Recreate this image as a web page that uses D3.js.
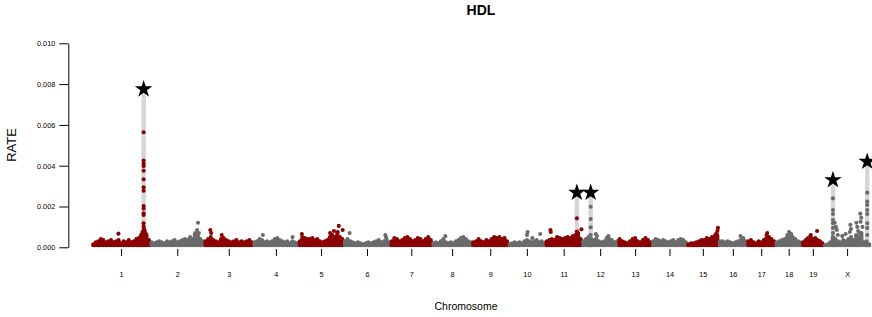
<!DOCTYPE html>
<html>
<head>
<meta charset="utf-8">
<script src="https://cdn.jsdelivr.net/npm/d3@7"></script>
<style>
body { margin: 0; background: #fff; }
text { font-family: "Liberation Sans", Arial, sans-serif; }
</style>
</head>
<body>
<svg id="chart"></svg>
<script>
// chromosome names and (approximate) lengths in Mb
var chromosomes = ["1","2","3","4","5","6","7","8","9","10","11","12","13","14","15","16","17","18","19","X"];
var chrLength = [194, 180, 163, 151, 150, 156, 139, 133, 121, 123, 122, 121, 112, 117, 105, 95, 94, 89, 72, 156];

// upper envelope of the dense SNP cloud, evenly spaced along each chromosome (RATE x 1e-4)
var chr1 = [1.5, 2.5, 3, 4, 3.5, 2.5, 3, 3.5, 2.5, 3, 3.5, 2, 3, 2.5, 3.5, 2.5, 3, 4, 4.5, 6, 9, 6, 3.5];
var chr2 = [2.5, 2, 2.5, 3, 2.5, 2, 3, 2.5, 3, 3.5, 2.5, 3, 3.5, 4, 3.5, 5, 4, 7, 6, 4, 3];
var chr3 = [3, 4, 5, 3.5, 3, 2.5, 4, 4.5, 3.5, 3, 2.5, 3, 3.5, 2.5, 3, 2.5, 3, 3.5, 2.5];
var chr4 = [2.5, 3, 4, 3.5, 2.5, 3, 2.5, 3, 4, 4.5, 3.5, 3, 2.5, 3, 2, 3, 2.5, 2];
var chr5 = [3, 5, 4.5, 4, 4, 4.5, 3.5, 4, 3, 2.5, 3, 3.5, 5, 6, 5, 7, 5, 4];
var chr6 = [3, 4, 3, 2.5, 2, 2.5, 2, 1.5, 2, 2.5, 2, 2.5, 3, 3.5, 2.5, 3, 4, 2.5];
var chr7 = [3, 4.5, 4, 3, 3.5, 4.5, 5, 4, 3, 3.5, 4.5, 4, 3, 4, 5, 3.5];
var chr8 = [2, 2.5, 2, 3, 4, 2.5, 2, 2.5, 2, 3, 3.5, 4.5, 5, 4, 3, 2.5];
var chr9 = [2.5, 3, 4, 3, 2.5, 3.5, 3, 4, 5, 4.5, 5, 4, 4.5, 3];
var chr10 = [1.5, 2, 2.5, 2, 2.5, 2, 3, 3.5, 3, 2.5, 3, 3.5, 2.5, 3, 2];
var chr11 = [3, 3.5, 4, 3.5, 5, 4.5, 4, 4.5, 5, 4.5, 5.5, 6, 7, 4];
var chr12 = [3, 4, 5, 4, 3.5, 4, 3, 2.5, 3, 4.5, 4, 3.5, 2.5, 3];
var chr13 = [4, 3, 2.5, 2, 3, 4, 4.5, 3, 2.5, 3.5, 4.5, 3.5, 2.5];
var chr14 = [3, 4, 3.5, 3, 3.5, 3, 2.5, 3, 3.5, 2.5, 3.5, 4, 3.5, 2.5];
var chr15 = [1.5, 2, 2, 2.5, 3, 3.5, 3.5, 4.5, 4, 5, 5.5, 6];
var chr16 = [3, 3, 2.5, 3, 2.5, 2, 2.5, 3, 3.5, 4.5, 3];
var chr17 = [3, 3.5, 2.5, 2, 3, 2.5, 3.5, 4.5, 5, 4, 3];
var chr18 = [2.5, 3, 3.5, 4, 5, 5.5, 5, 4, 3, 2.5];
var chr19 = [2.5, 3.5, 4.5, 5.5, 4, 4.5, 3.5, 3, 2];
var chrX = [1, 1.5, 2.5, 5, 4, 3, 2.5, 3.5, 3, 4, 5, 3.5, 6, 5, 7, 2.5, 3, 1.5];
var bandRates = [chr1, chr2, chr3, chr4, chr5, chr6, chr7, chr8, chr9, chr10,
                 chr11, chr12, chr13, chr14, chr15, chr16, chr17, chr18, chr19, chrX];

// single SNPs standing above the cloud: [chromosome, Mb, RATE x 1e-4]
var extraSnps = [
  ["1", 88, 6.7], ["1", 164, 6], ["1", 168, 7.5], ["1", 176, 8], ["1", 180, 6.5],
  ["2", 148, 6], ["2", 156, 8.5], ["2", 159, 12], ["2", 162, 7],
  ["3", 20, 8.5], ["3", 23, 7], ["3", 58, 6],
  ["4", 32, 6], ["4", 131, 5],
  ["5", 11, 6.5], ["5", 105, 7], ["5", 118, 8], ["5", 130, 7.5], ["5", 134, 10.5], ["5", 147, 8.5],
  ["6", 20, 7], ["6", 139, 6], ["6", 141, 5],
  ["8", 44, 5.5],
  ["10", 62, 6], ["10", 64, 7.5], ["10", 80, 4.5], ["10", 106, 6.5],
  ["11", 17, 8.5], ["11", 18, 7.5], ["11", 120, 8.8],
  ["12", 46, 6.5], ["12", 50, 5.5], ["12", 88, 5.5],
  ["15", 96, 6.5], ["15", 101, 8], ["15", 103, 9.5],
  ["16", 73, 5.5],
  ["17", 65, 6], ["17", 67, 7],
  ["18", 40, 6], ["18", 46, 7.5], ["18", 53, 6.5],
  ["19", 29, 6], ["19", 50, 8],
  ["X", 37, 12], ["X", 41, 10], ["X", 44, 8.5], ["X", 47, 6], ["X", 62, 5.5], ["X", 73, 6.5],
  ["X", 87, 7.5], ["X", 89, 11], ["X", 91, 9], ["X", 109, 12], ["X", 112, 10], ["X", 115, 8],
  ["X", 119, 7], ["X", 122, 16.5], ["X", 123, 12.5], ["X", 125, 14.5], ["X", 129, 10]
];

// significant peaks (star = top rate) and the SNPs along them
var peakChr = ["1", "11", "12", "X", "X"];
var peakPos = [172, 105, 29, 31, 145];
var peakTop = [77.5, 26.8, 26.8, 33, 42];
var peakSnps = [
  [0, 56.4], [0, 42.5], [0, 41], [0, 39.8], [0, 37.5], [0, 33.3], [0, 29.4], [0, 27.7],
  [0, 20.2], [0, 19], [0, 16.7], [0, 15.8], [0, 11.8], [0, 10.1], [0, 7.7], [0, 6],
  [1, 14.2], [1, 7.7],
  [2, 19.9], [2, 13.9], [2, 9.8], [2, 6],
  [3, 24], [3, 18.3], [3, 16.3], [3, 13.4], [3, 11.8], [3, 9.5], [3, 7],
  [4, 26.8], [4, 22.4], [4, 20.7], [4, 18.3], [4, 16.3], [4, 11.8], [4, 9.5], [4, 6]
];

var yTicks = [0, 0.002, 0.004, 0.006, 0.008, 0.010];

var svgWidth = 872, svgHeight = 317;
var red = "#8b0000", grey = "#6b6b6b";
var dotR = 2.05;
var base = 1; // bottom of the cloud, RATE x 1e-4

var svg = d3.select("#chart")
  .attr("width", svgWidth)
  .attr("height", svgHeight);

var offsets = [0].concat(Array.from(d3.cumsum(chrLength)));
function chrIdx(name) { return chromosomes.indexOf(name); }
function colorOf(i) { return i % 2 == 0 ? red : grey; }

var x = d3.scaleLinear().domain([0, d3.sum(chrLength)]).range([92, 870.5]);
var y = d3.scaleLinear().domain([0, 0.010]).range([247.3, 43.3]);
function gx(i, mb) { return x(offsets[i] + mb); }
function gy(r) { return y(r * 1e-4); }

// light grey bars under the peaks
svg.append("g").selectAll("line")
  .data(peakChr)
  .enter()
  .append("line")
  .attr("x1", function(d, i) { return gx(chrIdx(d), peakPos[i]); })
  .attr("x2", function(d, i) { return gx(chrIdx(d), peakPos[i]); })
  .attr("y1", y(0))
  .attr("y2", function(d, i) { return gy(peakTop[i]); })
  .attr("stroke", "#d6d6d6")
  .attr("stroke-width", 4.5);

// dense cloud of SNPs
var cloud = [];
bandRates.forEach(function(arr, c) {
  arr.forEach(function(v, k) {
    cloud.push({c: c, pos: (k + 0.5) * chrLength[c] / arr.length, v: v});
  });
});
svg.append("g").selectAll("line")
  .data(cloud)
  .enter()
  .append("line")
  .attr("x1", function(d) { return gx(d.c, d.pos); })
  .attr("x2", function(d) { return gx(d.c, d.pos); })
  .attr("y1", gy(base))
  .attr("y2", function(d) { return gy(d.v); })
  .attr("stroke", function(d) { return colorOf(d.c); })
  .attr("stroke-width", dotR * 2)
  .attr("stroke-linecap", "round");

svg.append("g").selectAll("circle")
  .data(extraSnps)
  .enter()
  .append("circle")
  .attr("cx", function(d) { return gx(chrIdx(d[0]), d[1]); })
  .attr("cy", function(d) { return gy(d[2]); })
  .attr("r", dotR)
  .attr("fill", function(d) { return colorOf(chrIdx(d[0])); });

svg.append("g").selectAll("circle")
  .data(peakSnps)
  .enter()
  .append("circle")
  .attr("cx", function(d) { return gx(chrIdx(peakChr[d[0]]), peakPos[d[0]]); })
  .attr("cy", function(d) { return gy(d[1]); })
  .attr("r", dotR)
  .attr("fill", function(d) { return colorOf(chrIdx(peakChr[d[0]])); });

// stars
svg.append("g").selectAll("path")
  .data(peakChr)
  .enter()
  .append("path")
  .attr("d", d3.symbol().type(d3.symbolStar).size(95))
  .attr("transform", function(d, i) {
    return "translate(" + gx(chrIdx(d), peakPos[i]) + "," + gy(peakTop[i]) + ")";
  })
  .attr("fill", "#000");

// axes
var centers = chrLength.map(function(len, i) { return offsets[i] + len / 2; });
var xAxis = svg.append("g")
  .attr("transform", "translate(0,249)")
  .call(d3.axisBottom(x).tickValues(centers)
    .tickFormat(function(d, i) { return chromosomes[i]; })
    .tickSize(7).tickPadding(16));
xAxis.select(".domain").remove();

var yAxis = svg.append("g")
  .attr("transform", "translate(68.3,0)")
  .call(d3.axisLeft(y).tickValues(yTicks)
    .tickFormat(d3.format(".3f"))
    .tickSize(9).tickSizeOuter(0).tickPadding(4));

svg.selectAll(".tick text")
  .attr("font-family", "Liberation Sans, Arial, sans-serif")
  .attr("font-size", 7.3)
  .attr("fill", "#000");
svg.selectAll(".tick line, .domain").attr("stroke", "#000");

// titles
svg.append("text")
  .attr("x", 481).attr("y", 15)
  .attr("text-anchor", "middle")
  .attr("font-weight", "bold")
  .attr("font-size", 14)
  .text("HDL");

svg.append("text")
  .attr("x", 466).attr("y", 309.5)
  .attr("text-anchor", "middle")
  .attr("font-size", 10.5)
  .text("Chromosome");

svg.append("text")
  .attr("transform", "translate(15.5,145) rotate(-90)")
  .attr("text-anchor", "middle")
  .attr("font-size", 13)
  .text("RATE");
</script>
</body>
</html>
